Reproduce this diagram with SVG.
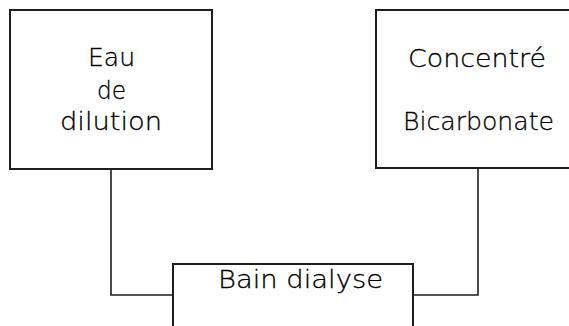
<svg xmlns="http://www.w3.org/2000/svg" width="569" height="326" viewBox="0 0 569 326">
<style>
.box{fill:none;stroke:#1e1e1e;stroke-width:2}
.con{fill:none;stroke:#1e1e1e;stroke-width:1.6}
.t{font-family:"DejaVu Sans","Liberation Sans",sans-serif;font-size:25px;font-weight:200;fill:#000;stroke:#000;stroke-width:0.3;text-anchor:middle}
</style>
<rect width="569" height="326" fill="#fff"/>
<g id="connectors">
<polyline class="con" points="111,169 111,295 173,295"/>
<polyline class="con" points="478,168 478,295 413,295"/>
</g>
<g id="eau">
<rect class="box" x="10" y="10" width="202" height="159"/>
<text class="t" x="111.5" y="66" textLength="47" lengthAdjust="spacingAndGlyphs">Eau</text>
<text class="t" x="111.5" y="99" textLength="29" lengthAdjust="spacingAndGlyphs">de</text>
<text class="t" x="111" y="130" textLength="102" lengthAdjust="spacingAndGlyphs">dilution</text>
</g>
<g id="concentre">
<path class="box" d="M570,10 H376 V168 H570"/>
<text class="t" x="477" y="67" textLength="138" lengthAdjust="spacingAndGlyphs">Concentré</text>
<text class="t" x="478.5" y="130" textLength="151" lengthAdjust="spacingAndGlyphs">Bicarbonate</text>
</g>
<g id="bain">
<path class="box" d="M173,330 V264 H413 V330"/>
<text class="t" x="300.5" y="288" textLength="165" lengthAdjust="spacingAndGlyphs">Bain dialyse</text>
</g>
</svg>
